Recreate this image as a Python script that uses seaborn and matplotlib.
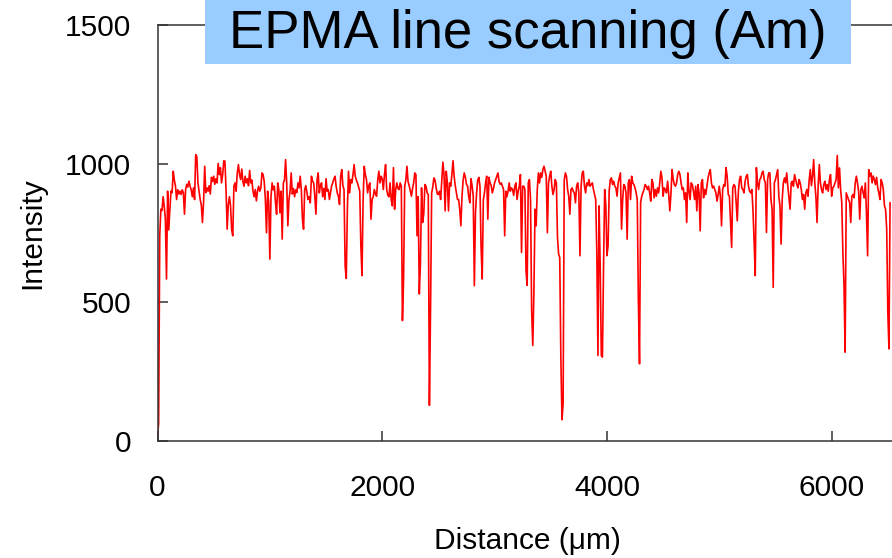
import numpy as np
import pandas as pd
import matplotlib
matplotlib.use("Agg")
import matplotlib.pyplot as plt
from matplotlib.patches import Rectangle
import seaborn as sns

# EPMA line scan, one reading every 10 um
STEP_UM = 10
intensity = [
    20, 60, 740, 835, 830, 880, 845, 800, 583, 900,
    760, 835, 900, 895, 972, 940, 918, 870, 905, 890,
    900, 888, 905, 895, 817, 905, 925, 915, 936, 918,
    905, 880, 912, 870, 1032, 1025, 930, 900, 870, 850,
    787, 860, 990, 895, 912, 900, 920, 890, 950, 935,
    954, 925, 945, 930, 1000, 960, 985, 930, 960, 1010,
    1008, 905, 763, 850, 880, 847, 760, 739, 918, 930,
    900, 966, 996, 960, 942, 980, 935, 918, 954, 930,
    945, 920, 975, 930, 940, 900, 880, 906, 865, 900,
    918, 900, 912, 966, 960, 935, 870, 750, 900, 860,
    655, 880, 930, 905, 918, 860, 817, 930, 905, 822,
    900, 727, 930, 940, 1014, 930, 775, 870, 900, 966,
    890, 910, 880, 905, 895, 930, 912, 954, 906, 799,
    763, 906, 920, 895, 870, 880, 858, 954, 936, 930,
    882, 817, 940, 966, 894, 920, 930, 880, 910, 870,
    945, 900, 906, 870, 894, 920, 930, 945, 954, 918,
    894, 882, 852, 954, 978, 920, 906, 630, 585, 835,
    972, 894, 942, 930, 960, 996, 954, 940, 930, 915,
    900, 703, 595, 870, 990, 960, 942, 894, 920, 930,
    799, 870, 880, 906, 890, 882, 940, 972, 930, 954,
    945, 906, 960, 996, 906, 885, 880, 930, 870, 847,
    985, 835, 906, 930, 910, 906, 930, 918, 433, 583,
    918, 940, 990, 935, 920, 900, 882, 910, 930, 966,
    960, 739, 880, 529, 637, 912, 787, 820, 924, 918,
    894, 888, 127, 469, 894, 915, 948, 940, 912, 890,
    888, 900, 870, 940, 1005, 960, 829, 972, 930, 829,
    930, 918, 960, 1010, 954, 920, 894, 870, 870, 835,
    775, 880, 940, 966, 950, 925, 918, 880, 858, 945,
    920, 882, 559, 822, 894, 940, 950, 918, 697, 583,
    870, 894, 930, 954, 799, 950, 930, 920, 894, 910,
    930, 942, 955, 966, 935, 925, 930, 918, 906, 739,
    900, 880, 900, 930, 900, 912, 906, 885, 918, 930,
    870, 900, 918, 960, 679, 918, 918, 906, 613, 560,
    930, 942, 870, 469, 343, 535, 835, 775, 906, 966,
    930, 966, 950, 978, 990, 972, 954, 750, 930, 954,
    972, 918, 888, 906, 942, 930, 733, 673, 660, 295,
    75, 133, 940, 966, 954, 906, 882, 817, 906, 912,
    900, 894, 858, 918, 930, 894, 667, 918, 966, 972,
    918, 894, 930, 920, 942, 918, 924, 930, 906, 888,
    870, 679, 307, 847, 630, 307, 301, 630, 906, 850,
    667, 703, 900, 942, 948, 924, 936, 918, 912, 882,
    930, 948, 966, 763, 870, 924, 918, 894, 727, 930,
    942, 870, 954, 930, 924, 912, 894, 870, 500, 277,
    860, 882, 894, 906, 924, 918, 906, 918, 894, 864,
    942, 930, 876, 906, 882, 912, 894, 930, 972, 948,
    882, 912, 906, 894, 936, 888, 829, 894, 978, 942,
    924, 918, 930, 960, 972, 960, 930, 906, 912, 870,
    894, 787, 966, 900, 870, 930, 924, 900, 870, 918,
    829, 924, 894, 757, 930, 942, 876, 906, 888, 918,
    948, 966, 978, 930, 912, 918, 906, 894, 864, 888,
    918, 880, 775, 906, 924, 918, 985, 954, 888, 882,
    787, 697, 912, 924, 918, 860, 793, 900, 942, 954,
    912, 906, 894, 936, 954, 960, 918, 900, 894, 906,
    829, 720, 595, 985, 930, 906, 942, 948, 966, 972,
    942, 930, 751, 942, 966, 966, 870, 835, 553, 930,
    942, 960, 978, 882, 847, 709, 870, 930, 948, 930,
    966, 918, 876, 835, 930, 936, 918, 960, 942, 924,
    912, 942, 930, 906, 870, 888, 835, 894, 906, 882,
    940, 978, 920, 954, 1014, 930, 880, 787, 918, 996,
    930, 906, 894, 924, 936, 906, 924, 900, 940, 960,
    882, 912, 918, 930, 942, 1029, 912, 984, 906, 860,
    680, 560, 319, 894, 882, 870, 860, 787, 882, 888,
    876, 930, 954, 930, 900, 799, 906, 918, 894, 876,
    930, 820, 667, 978, 955, 966, 930, 955, 942, 924,
    950, 912, 894, 870, 942, 930, 906, 847, 835, 763,
    463, 331, 859,
]
distance = np.arange(len(intensity)) * STEP_UM

x_ticks = [0, 2000, 4000, 6000]
y_ticks = [0, 500, 1000, 1500]
title = "EPMA line scanning (Am)"

df = pd.DataFrame({"Distance": distance, "Intensity": intensity})

sns.set_style("ticks")
plt.rcParams["font.family"] = ["Liberation Sans", "DejaVu Sans"]

W, H = 892, 558
fig = plt.figure(figsize=(W / 100, H / 100), dpi=100)
# axes runs past the right edge of the picture, as in the original
ax = fig.add_axes([157.5 / W, (H - 440.5) / H, 786.5 / W, 415.5 / H])

sns.lineplot(data=df, x="Distance", y="Intensity", color="#ff0000",
             linewidth=1.2, estimator=None, ax=ax)

ax.set_xlim(0, 7000)
ax.set_ylim(0, 1500)
ax.set_xticks(x_ticks)
ax.set_yticks(y_ticks)
ax.tick_params(direction="in", length=7, width=1.1, color="#333333",
               labelsize=21.5, labelcolor="black")
ax.tick_params(axis="x", pad=24)
ax.tick_params(axis="y", pad=19)
for s in ax.spines.values():
    s.set_color("#333333")
    s.set_linewidth(1.1)

ax.set_xlabel("Distance (\u03bcm)", fontsize=21.5, color="black")
ax.set_ylabel("Intensity", fontsize=21.5, color="black")
ax.xaxis.set_label_coords(0.47, -0.208)
ax.yaxis.set_label_coords(-0.142, 0.5)

# title on a light blue box covering the top spine
fig.patches.append(Rectangle((205 / W, 1 - 64 / H), 646 / W, 70 / H,
                             transform=fig.transFigure, facecolor="#99ccff",
                             edgecolor="none", zorder=5))
fig.text(528 / W, 1 - 34 / H, title, ha="center", va="center",
         fontsize=38, color="black", zorder=6)

fig.savefig("out.png", dpi=100)
